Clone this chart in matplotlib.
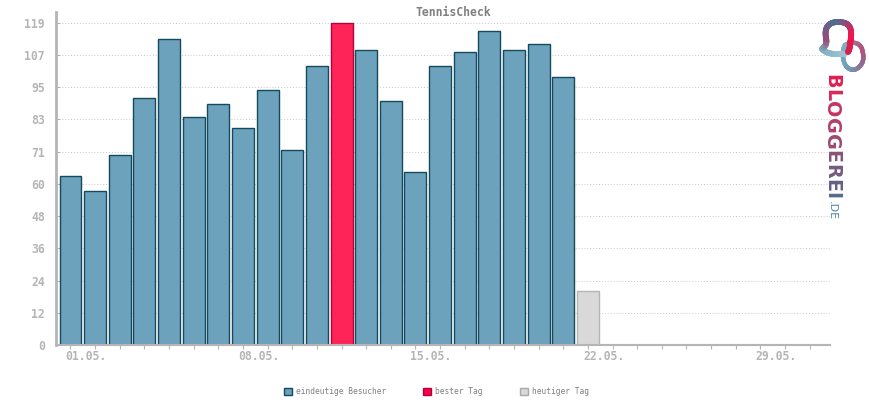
import numpy as np
import matplotlib
matplotlib.use("Agg")
import matplotlib.pyplot as plt
from matplotlib.collections import LineCollection
from matplotlib.colors import LinearSegmentedColormap
from matplotlib.patches import Patch

days = list(range(1, 32))
visitors = [62.5, 57, 70, 91, 113, 84, 89, 80, 94, 72, 103, 119, 109, 90, 64, 103, 108, 116, 109, 111, 99, 20]
y_ticks = [0, 11.9, 23.8, 35.7, 47.6, 59.5, 71.4, 83.3, 95.2, 107.1, 119]
y_labels = ["0", "12", "24", "36", "48", "60", "71", "83", "95", "107", "119"]
x_labels = {1: "01.05.", 8: "08.05.", 15: "15.05.", 22: "22.05.", 29: "29.05."}
best_day = 12
today = 22

AXIS_GREY = "#b5b5b5"
BLUE, BLUE_EDGE = "#6ca2bb", "#134a5e"
RED, RED_EDGE = "#ff2458", "#b8003a"
GREY, GREY_EDGE = "#d9d9d9", "#b5b5b5"

W, H = 870, 400
plt.rcParams["font.family"] = ["DejaVu Sans Mono"]

fig = plt.figure(figsize=(W / 100, H / 100), dpi=100)

# axes box in pixels: x 56-830, y 12-345
ax = fig.add_axes([56 / W, (H - 345) / H, (830 - 56) / W, (345 - 12) / H])
ax.set_xlim(1 - 14.5 / 24.64, 1 + (830 - 70.5) / 24.64)
ax.set_ylim(0, 333 / 2.71)

colors, edges = [], []
for i in range(len(visitors)):
    day = i + 1
    if day == best_day:
        colors.append(RED)
        edges.append(RED_EDGE)
    elif day == today:
        colors.append(GREY)
        edges.append(GREY_EDGE)
    else:
        colors.append(BLUE)
        edges.append(BLUE_EDGE)

ax.bar(days[:len(visitors)], visitors, width=0.89, color=colors, edgecolor=edges,
       linewidth=1.0, zorder=2)

ax.set_yticks(y_ticks)
ax.set_yticklabels(y_labels, fontsize=8.3, fontweight="bold", color=AXIS_GREY)
ax.set_xticks(days)
ax.set_xticklabels([])
for d, label in x_labels.items():
    ax.annotate(label, (d, 0), xycoords=("data", "axes fraction"), xytext=(-5, -11),
                textcoords="offset pixels", ha="left", va="center",
                fontsize=8.3, fontweight="bold", color=AXIS_GREY)

ax.tick_params(axis="x", length=3, width=0.8, color=AXIS_GREY)
ax.tick_params(axis="y", length=3, width=0.8, color=AXIS_GREY, direction="in", pad=8)
ax.grid(axis="y", linestyle=(0, (1, 2)), color="#c8c8c8", linewidth=0.7, zorder=1)
ax.set_axisbelow(True)

for side in ("top", "right"):
    ax.spines[side].set_visible(False)
ax.spines["left"].set_color(AXIS_GREY)
ax.spines["left"].set_linewidth(2.0)
ax.spines["bottom"].set_color(AXIS_GREY)
ax.spines["bottom"].set_linewidth(1.5)
ax.spines["bottom"].set_zorder(3)

fig.text(453 / W, 1 - 12 / H, "TennisCheck", ha="center", va="center",
         fontsize=8.3, fontweight="bold", color="#808080")

handles = [Patch(facecolor=BLUE, edgecolor=BLUE_EDGE, label="eindeutige Besucher"),
           Patch(facecolor="#f5004b", edgecolor=RED_EDGE, label="bester Tag"),
           Patch(facecolor=GREY, edgecolor="#a8a8a8", label="heutiger Tag")]
fig.legend(handles=handles, loc="center", bbox_to_anchor=(436.5 / W, 1 - 392 / H), ncol=3,
           frameon=False, prop={"size": 5.7}, labelcolor="#808080", handlelength=1.0,
           handleheight=1.0, handletextpad=0.5, columnspacing=4.7, borderpad=0)

# logo drawn in pixel coordinates
logo = fig.add_axes([0, 0, 1, 1], facecolor="none")
logo.set_xlim(0, W)
logo.set_ylim(H, 0)
logo.axis("off")


def bezier(p0, p1, p2, p3, n=30):
    t = np.linspace(0, 1, n)[:, None]
    p0, p1, p2, p3 = map(np.array, (p0, p1, p2, p3))
    return (1 - t) ** 3 * p0 + 3 * (1 - t) ** 2 * t * p1 + 3 * (1 - t) * t ** 2 * p2 + t ** 3 * p3


def gradient_line(pts, stops, lw):
    cmap = LinearSegmentedColormap.from_list("logo", stops)
    segs = np.stack([pts[:-1], pts[1:]], axis=1)
    lc = LineCollection(segs, cmap=cmap, array=np.linspace(0, 1, len(segs)), linewidth=lw, capstyle="round")
    logo.add_collection(lc)


ring = np.vstack([
    bezier((845, 45), (851, 42), (859, 41), (862, 49)),
    bezier((862, 49), (864, 56), (864, 62), (860, 66)),
    bezier((860, 66), (856, 71), (850, 71), (846, 66)),
    bezier((846, 66), (842, 60), (842, 50), (845, 45)),
])
gradient_line(ring, ["#8fa0b5", "#b5507a", "#8d6f95", "#6fa0b8", "#7ab0c4"], 3.2)

tail = np.vstack([
    bezier((845, 54), (836, 54), (828, 55), (822, 49)),
    bezier((822, 49), (826, 46), (827, 43), (826, 38)),
    bezier((826, 38), (824, 27), (829, 22), (838, 22)),
    bezier((838, 22), (849, 22), (852, 27), (851, 38)),
    bezier((851, 38), (850, 44), (850, 49), (848, 52)),
])
gradient_line(tail, ["#a6c6d3", "#7fb2c6", "#9b4a78", "#4e6e92", "#f5144f", "#d8204f"], 4.2)

word = "BLOGGEREI"
word_colors = ["#df1f55", "#d42a5c", "#c53463", "#b03f6c", "#9d4872", "#8a5079", "#76597f", "#655f87", "#566a90"]
renderer = fig.canvas.get_renderer()
y = 74.0
for ch, col in zip(word, word_colors):
    t = logo.text(832, y, ch, rotation=-90, ha="center", va="top", fontsize=13.8, fontweight="bold",
                  family="DejaVu Sans", color=col)
    y += t.get_window_extent(renderer).height + 0.3
logo.text(832, y + 1, ".DE", rotation=-90, ha="center", va="top", fontsize=8,
          family="DejaVu Sans", color="#4f86a6")

fig.savefig("out.png", dpi=100)
